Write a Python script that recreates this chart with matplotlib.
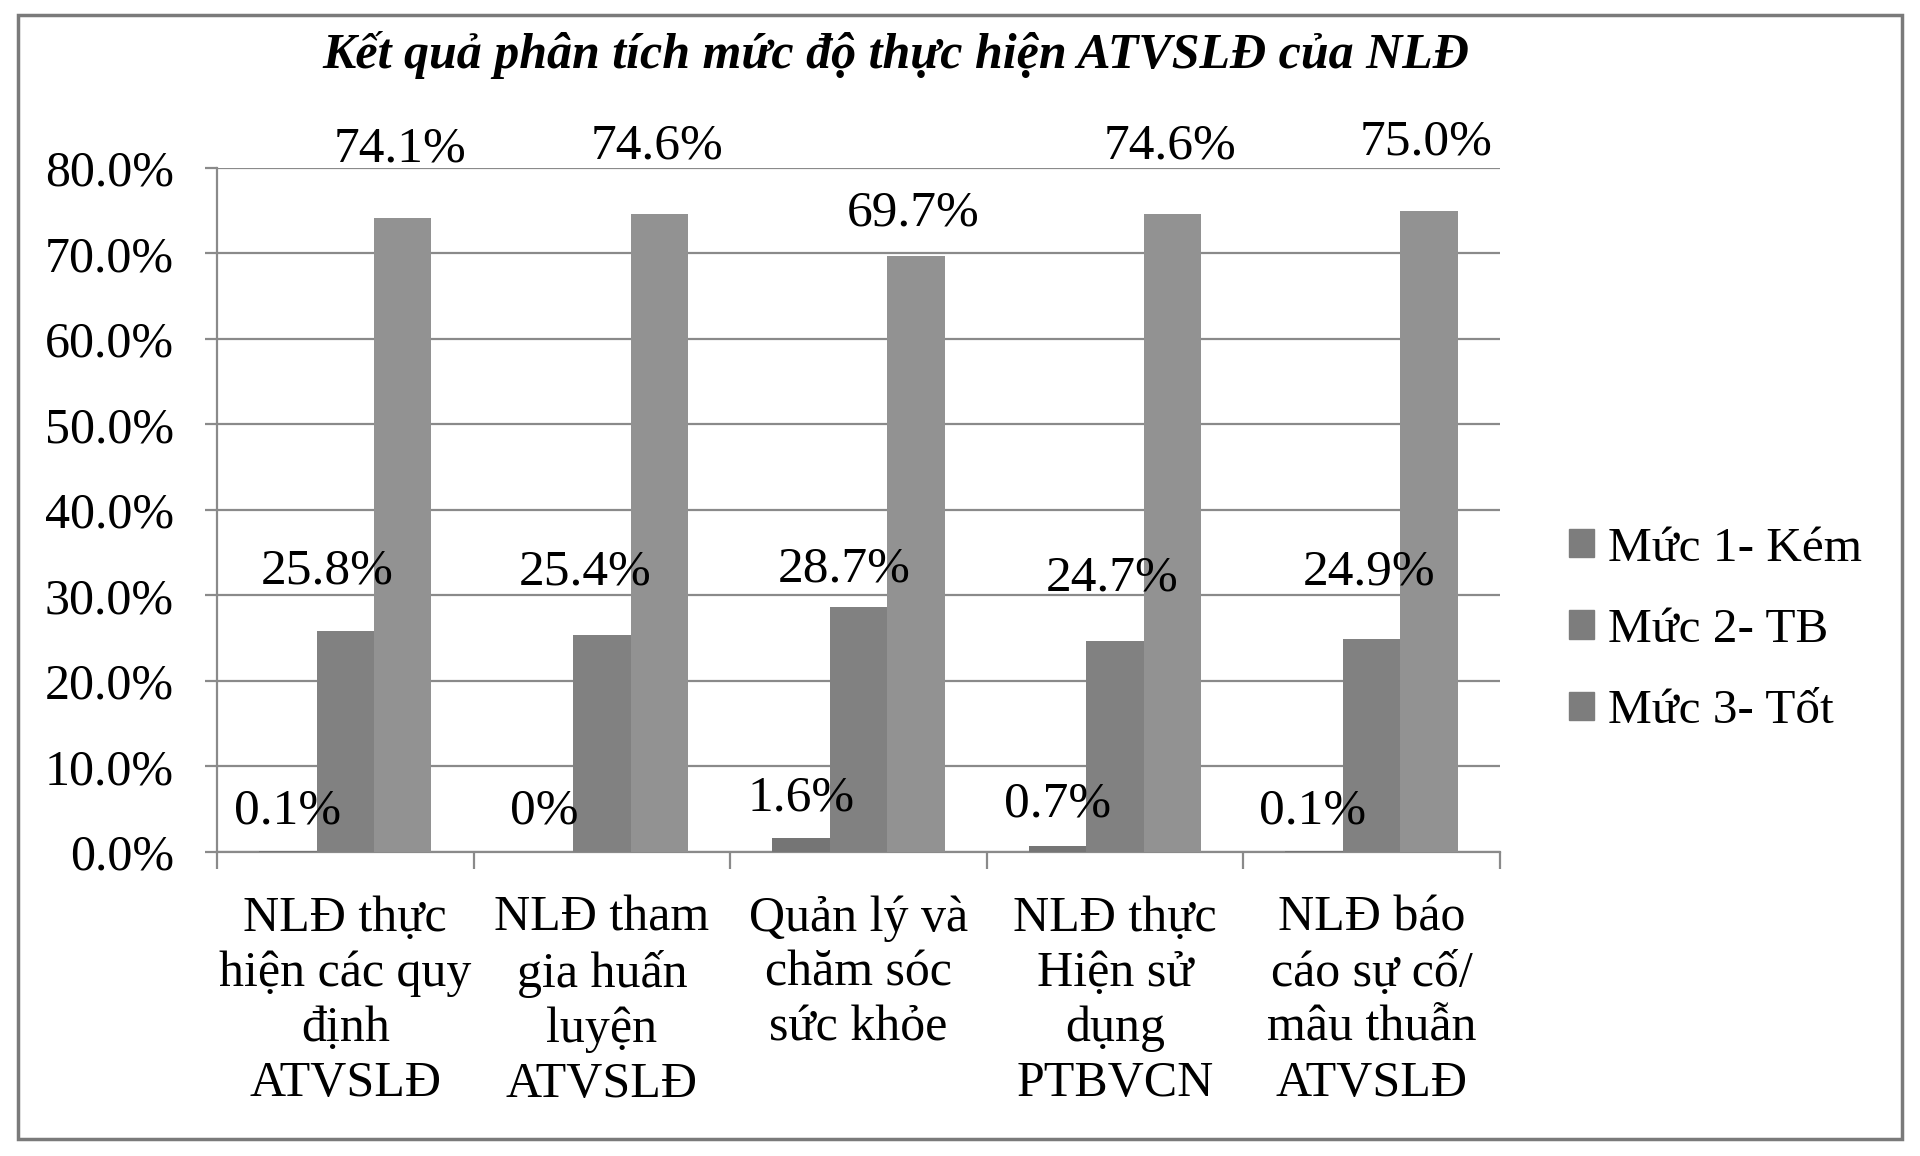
import matplotlib.pyplot as plt
import numpy as np
from matplotlib.patches import Rectangle

plt.rcParams['font.family'] = ['Liberation Serif', 'DejaVu Serif']

categories = ["NLĐ thực\nhiện các quy\nđịnh\nATVSLĐ",
              "NLĐ tham\ngia huấn\nluyện\nATVSLĐ",
              "Quản lý và\nchăm sóc\nsức khỏe",
              "NLĐ thực\nHiện sử\ndụng\nPTBVCN",
              "NLĐ báo\ncáo sự cố/\nmâu thuẫn\nATVSLĐ"]
series_names = ["Mức 1- Kém", "Mức 2- TB", "Mức 3- Tốt"]
muc1 = [0.1, 0.0, 1.6, 0.7, 0.1]
muc2 = [25.8, 25.4, 28.7, 24.7, 24.9]
muc3 = [74.1, 74.6, 69.7, 74.6, 75.0]
label_text = [["0.1%", "0%", "1.6%", "0.7%", "0.1%"],
              ["25.8%", "25.4%", "28.7%", "24.7%", "24.9%"],
              ["74.1%", "74.6%", "69.7%", "74.6%", "75.0%"]]

colors = ["#757575", "#818181", "#929292"]
# label offsets in points (dx, dy from bar top to label centre)
label_dx = [[0, 0, 0, 0, -1],
            [-13, -12, -10, -2, -2],
            [-2, -2, -2, -2, -2]]
label_dy = [[29, 29, 29, 30, 29],
            [43, 45, 27, 45, 48],
            [50, 49, 31, 49, 49]]

fs = 36

fig = plt.figure(figsize=(19.2, 11.56), dpi=100)
ax = fig.add_axes([0.1130, 0.2630, 0.78125 - 0.1130, 0.8547 - 0.2630])

x = np.arange(len(categories))
w = 0.224
all_series = [muc1, muc2, muc3]
for i, vals in enumerate(all_series):
    xs = x + (i - 1) * w
    ax.bar(xs, np.array(vals) / 100, width=w, color=colors[i],
           label=series_names[i], zorder=3)
    for j, v in enumerate(vals):
        ax.annotate(label_text[i][j], xy=(xs[j], v / 100),
                    xytext=(label_dx[i][j], label_dy[i][j]),
                    textcoords="offset points", ha="center", va="center",
                    fontsize=fs + 1, zorder=5)

ax.set_xlim(-0.5, len(categories) - 0.5)
ax.set_ylim(0, 0.8)
ax.set_yticks(np.arange(0, 0.81, 0.1))
ax.set_yticklabels([f"{t * 100:.1f}%" for t in np.arange(0, 0.81, 0.1)])
ax.yaxis.grid(True, color="#8a8a8a", linewidth=1.6, zorder=0)
ax.set_axisbelow(True)

# category ticks sit between groups, labels at group centres
ax.set_xticks(np.arange(-0.5, len(categories), 1.0))
ax.set_xticklabels([])
ax.set_xticks(x, minor=True)
ax.set_xticklabels(categories, minor=True, fontsize=fs, linespacing=1.24)
ax.tick_params(axis="x", which="major", length=12, width=1.6, color="#8a8a8a")
ax.tick_params(axis="x", which="minor", length=0, pad=31)
ax.tick_params(axis="y", length=9, width=1.6, color="#8a8a8a", labelsize=fs, pad=22)

for s in ["top", "right"]:
    ax.spines[s].set_visible(False)
for s in ["left", "bottom"]:
    ax.spines[s].set_color("#8a8a8a")
    ax.spines[s].set_linewidth(1.6)

fig.text(0.4667, 0.952, "Kết quả phân tích mức độ thực hiện ATVSLĐ của NLĐ",
         ha="center", va="center", fontsize=36, fontweight="bold", style="italic")

leg_handles = [Rectangle((0, 0), 1, 1, color="#7d7d7d") for _ in series_names]
fig.legend(leg_handles, series_names, loc="center left",
           bbox_to_anchor=(0.794, 0.455), frameon=False, fontsize=fs - 0.5,
           handlelength=0.5, handleheight=0.5, handletextpad=0.3,
           labelspacing=0.76)

fig.patches.append(Rectangle((0.0094, 0.0147), 0.9812, 0.9723, transform=fig.transFigure,
                             fill=False, edgecolor="#7a7a7a", linewidth=2.5))

fig.savefig("out.png", dpi=100)
